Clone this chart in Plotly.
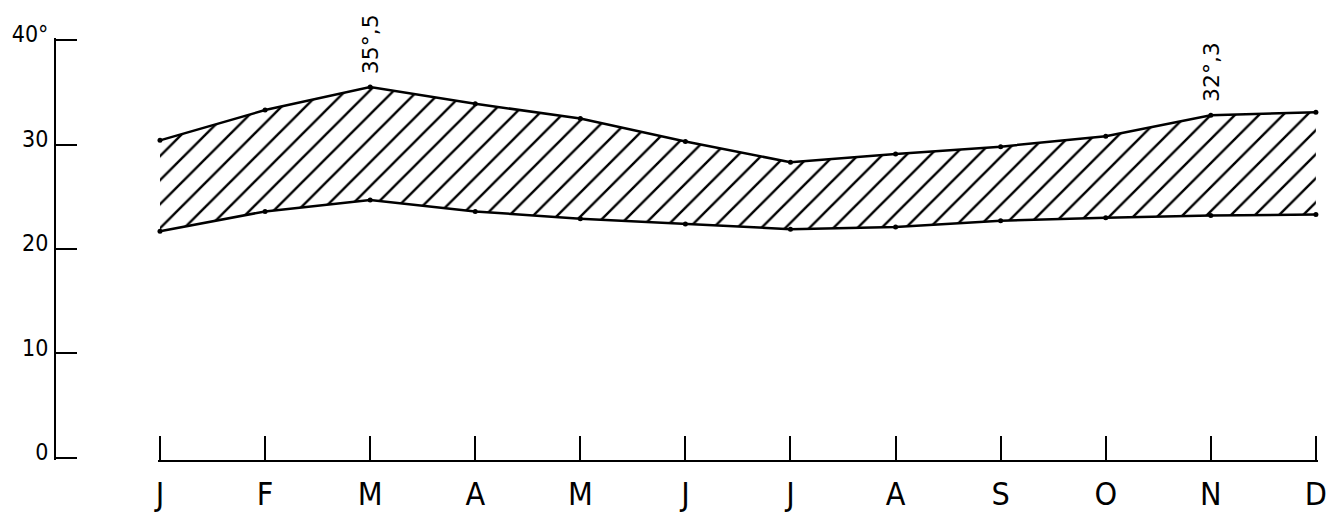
import plotly.graph_objects as go

months = ["J", "F", "M", "A", "M", "J", "J", "A", "S", "O", "N", "D"]
tmax = [30.4, 33.3, 35.5, 33.9, 32.5, 30.3, 28.3, 29.1, 29.8, 30.8, 32.8, 33.1]
tmin = [21.7, 23.6, 24.7, 23.6, 22.9, 22.4, 21.9, 22.1, 22.7, 23.0, 23.2, 23.3]
y_tickvals = [0, 10, 20, 30, 40]
y_ticktext = ["0", "10", "20", "30", "40°"]
peak_labels = [(2, "35°,5"), (10, "32°,3")]

x = list(range(len(months)))
FONT = "DejaVu Sans Condensed, DejaVu Sans, sans-serif"

fig = go.Figure()
fig.add_trace(go.Scatter(
    x=x, y=tmin, mode="lines+markers",
    line=dict(color="black", width=2.5),
    marker=dict(color="black", size=5),
    cliponaxis=False, showlegend=False, hoverinfo="skip",
))
fig.add_trace(go.Scatter(
    x=x, y=tmax, mode="lines+markers",
    line=dict(color="black", width=2.5),
    marker=dict(color="black", size=5),
    fill="tonexty", fillcolor="white",
    fillpattern=dict(shape="/", fgcolor="black", bgcolor="white",
                     size=17, solidity=0.14, fillmode="replace"),
    cliponaxis=False, showlegend=False, hoverinfo="skip",
))

for i, txt in peak_labels:
    fig.add_annotation(
        x=i, y=tmax[i], text=txt, showarrow=False, textangle=-90,
        xanchor="center", yanchor="bottom", yshift=11,
        font=dict(family="DejaVu Sans, sans-serif", size=22, color="black"),
    )

# page body has an 8px margin; figure coordinates are page coordinates - 8
OFF = 8
W, H = 1339 - OFF, 523 - OFF
L = 55 - OFF
T = 38 - OFF
B = H - (460 - OFF)
R = W - (1318 - OFF)
pw = W - L - R
eps_x = 0.02
px_per_unit = (1318 - 160) / 11
x_left_px = (160 - OFF) - eps_x * px_per_unit
x0 = (x_left_px - L) / pw
eps_y = 0.2

fig.update_layout(
    width=W, height=H,
    margin=dict(l=L, r=R, t=T, b=B, pad=0, autoexpand=False),
    paper_bgcolor="white", plot_bgcolor="white",
    showlegend=False,
    xaxis=dict(
        domain=[x0, 1], range=[-eps_x, 11 + eps_x], automargin=False,
        tickmode="array", tickvals=x, ticktext=months,
        showgrid=False, zeroline=False,
        showline=True, linecolor="black", linewidth=2,
        ticks="inside", ticklen=24, tickwidth=2, tickcolor="black",
        tickfont=dict(family=FONT, size=32, color="black"),
        ticklabelstandoff=5,
    ),
    yaxis=dict(
        domain=[0, 1], range=[-eps_y, 40 + eps_y], anchor="free", position=0,
        automargin=False,
        tickmode="array", tickvals=y_tickvals, ticktext=y_ticktext,
        showgrid=False, zeroline=False,
        showline=True, linecolor="black", linewidth=2,
        ticks="inside", ticklen=21, tickwidth=2, tickcolor="black",
        tickfont=dict(family=FONT, size=23, color="black"),
        ticklabelshift=-6, ticklabelstandoff=1,
    ),
)

fig.write_html("out.html")
